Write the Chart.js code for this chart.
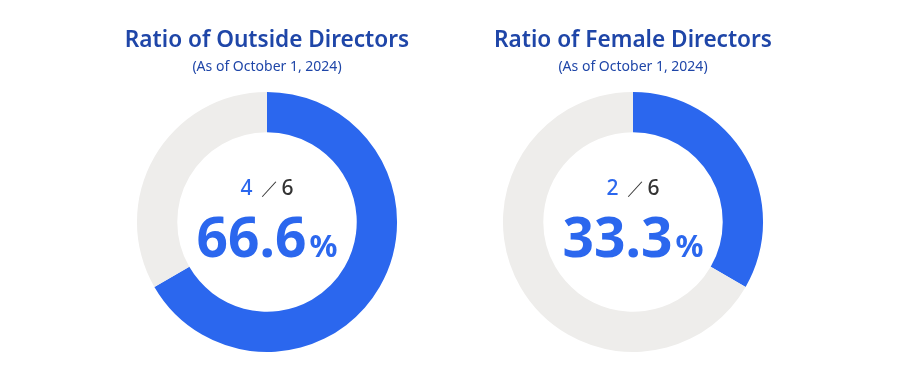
<!DOCTYPE html>
<html>
<head>
<meta charset="utf-8">
<script src="https://cdn.jsdelivr.net/npm/chart.js@4"></script>
<style>
  html, body { margin: 0; padding: 0; background: #fff; }
  .wrap { position: relative; width: 900px; height: 380px; }
  .box { position: absolute; top: 0; width: 366px; height: 380px; }
  #left { left: 84px; }
  #right { left: 450px; }
</style>
</head>
<body>
<div class="wrap">
  <div class="box" id="left"><canvas id="outsideChart" width="366" height="380"></canvas></div>
  <div class="box" id="right"><canvas id="femaleChart" width="366" height="380"></canvas></div>
</div>
<script>
const titles = ['Ratio of Outside Directors', 'Ratio of Female Directors'];
const asOf = '(As of October 1, 2024)';
const counts = [4, 2];
const totals = [6, 6];
const percentLabels = ['66.6', '33.3'];

const BLUE = '#2b67ee';
const GREY = '#eeedeb';
const NAVY = '#1f46a8';
const FONT = '"Noto Sans", sans-serif';

// draws "4 / 6" and the big percentage in the hole
const centerText = {
  id: 'centerText',
  afterDraw(chart, args, opts) {
    const arc = chart.getDatasetMeta(0).data[0];
    if (!arc) return;
    const ctx = chart.ctx;
    const cx = arc.x, cy = arc.y;
    ctx.save();
    ctx.textBaseline = 'middle';

    // small fraction line, a bit spread out like the original
    const parts = [
      { t: String(opts.count), c: BLUE, f: '500 21px ' + FONT, gap: 8 },
      { t: '／', c: '#333', f: '300 18px ' + FONT, gap: 3 },
      { t: String(opts.total), c: '#333', f: '500 21px ' + FONT, gap: 0 },
    ];
    let w = 0;
    parts.forEach(p => { ctx.font = p.f; p.w = ctx.measureText(p.t).width; w += p.w + p.gap; });
    let x = cx - w / 2;
    parts.forEach(p => {
      ctx.font = p.f; ctx.fillStyle = p.c; ctx.textAlign = 'left';
      ctx.fillText(p.t, x, cy - 33);
      x += p.w + p.gap;
    });

    // big percent
    ctx.font = 'bold 55px ' + FONT;
    const nw = ctx.measureText(opts.pct).width;
    ctx.font = 'bold 31px ' + FONT;
    const pw = ctx.measureText('%').width;
    x = cx - (nw + pw + 3) / 2;
    ctx.fillStyle = BLUE;
    ctx.textBaseline = 'alphabetic';
    ctx.font = 'bold 55px ' + FONT;
    ctx.fillText(opts.pct, x, cy + 35);
    ctx.font = 'bold 31px ' + FONT;
    ctx.fillText('%', x + nw + 3, cy + 35);
    ctx.restore();
  }
};

function makeChart(id, i) {
  const ctx = document.getElementById(id).getContext('2d');
  return new Chart(ctx, {
    type: 'doughnut',
    data: {
      labels: ['Yes', 'Other'],
      datasets: [{
        data: [counts[i], totals[i] - counts[i]],
        backgroundColor: [BLUE, GREY],
        borderWidth: 0,
        hoverOffset: 0,
      }],
    },
    options: {
      responsive: false,
      animation: false,
      cutout: '69%',
      events: [],
      layout: { padding: { bottom: 28 } },
      plugins: {
        legend: { display: false },
        tooltip: { enabled: false },
        title: {
          display: true,
          text: titles[i],
          color: NAVY,
          font: { family: FONT, size: 22.6, weight: '600' },
          padding: { top: 27, bottom: 4 },
        },
        subtitle: {
          display: true,
          text: asOf,
          color: NAVY,
          font: { family: FONT, size: 14 },
          padding: { top: 0, bottom: 17 },
        },
        centerText: { count: counts[i], total: totals[i], pct: percentLabels[i] },
      },
    },
    plugins: [centerText],
  });
}

makeChart('outsideChart', 0);
makeChart('femaleChart', 1);
</script>
</body>
</html>
